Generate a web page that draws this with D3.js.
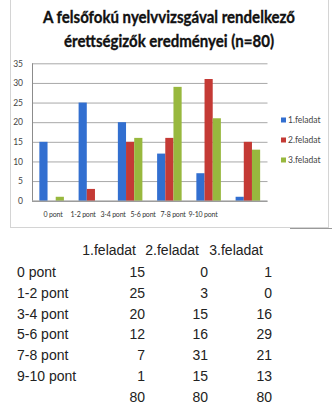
<!DOCTYPE html>
<html>
<head>
<meta charset="utf-8">
<script src="https://cdn.jsdelivr.net/npm/d3@7"></script>
<style>
  body { margin: 0; background: #fff; }
  svg { display: block; }
</style>
</head>
<body>
<script>
// data
var categories = ["0 pont", "1-2 pont", "3-4 pont", "5-6 pont", "7-8 pont", "9-10 pont"];
var seriesNames = ["1.feladat", "2.feladat", "3.feladat"];
var feladat1 = [15, 25, 20, 12, 7, 1];
var feladat2 = [0, 3, 15, 16, 31, 15];
var feladat3 = [1, 0, 16, 29, 21, 13];
var totals = [80, 80, 80];
var yTicks = [0, 5, 10, 15, 20, 25, 30, 35];
var titleLines = ["A felsőfokú nyelvvizsgával rendelkező", "érettségizők eredményei (n=80)"];

var colors = ["#326fd0", "#c43a35", "#98b83e"];
var series = [feladat1, feladat2, feladat3];

var W = 332, H = 415;
var svg = d3.select("body").append("svg")
    .attr("width", W)
    .attr("height", H);

//---------chart frame-----------//
svg.append("rect")
    .attr("x", 10.5).attr("y", -1)
    .attr("width", 318).attr("height", 228.5)
    .attr("fill", "#fff")
    .attr("stroke", "#d4d4d4");
// little shadow line at bottom right
svg.append("line")
    .attr("x1", 290).attr("x2", 332)
    .attr("y1", 228.5).attr("y2", 228.5)
    .attr("stroke", "#9a9a9a");

// title
svg.selectAll(".title")
    .data(titleLines)
    .enter().append("text")
    .attr("class", "title")
    .attr("x", 169)
    .attr("y", function(d, i) { return 23 + i * 24; })
    .attr("text-anchor", "middle")
    .attr("textLength", function(d, i) { return i === 0 ? 252 : 210; })
    .attr("lengthAdjust", "spacingAndGlyphs")
    .style("font-family", "Lato, sans-serif")
    .style("font-weight", "bold")
    .style("font-size", "17px")
    .style("fill", "#111")
    .style("stroke", "#111")
    .style("stroke-width", "0.35px")
    .text(function(d) { return d; });

//---------plot-----------//
var plot = { left: 32, right: 267.5, top: 63.3, bottom: 200.7 };

var x = d3.scaleBand()
    .domain(categories)
    .range([plot.left, plot.right])
    .paddingInner(0).paddingOuter(0);

var xInner = d3.scaleBand()
    .domain(seriesNames)
    .range([0, x.bandwidth()])
    .paddingInner(0).paddingOuter(0.9);

var y = d3.scaleLinear()
    .domain([0, 35])
    .range([plot.bottom, plot.top]);

// gridlines
var grid = svg.append("g")
    .attr("transform", "translate(" + plot.left + ",0)")
    .call(d3.axisLeft(y).tickValues(yTicks).tickSize(-(plot.right - plot.left)).tickFormat(""));
grid.select(".domain").remove();
grid.selectAll("line").attr("stroke", "#a8a8a8");

// y axis labels
var yAxis = svg.append("g")
    .attr("transform", "translate(" + (plot.left - 9) + ",0)")
    .call(d3.axisLeft(y).tickValues(yTicks).tickSize(0).tickPadding(0));
yAxis.select(".domain").remove();
yAxis.selectAll("text")
    .style("font-family", "Lato, sans-serif")
    .style("font-size", "8.5px")
    .style("fill", "#444");

// bars
var groups = svg.selectAll(".grp")
    .data(seriesNames)
    .enter().append("g")
    .attr("class", "grp")
    .attr("fill", function(d, i) { return colors[i]; });

groups.selectAll("rect")
    .data(function(d, i) { return series[i].map(function(v, j) { return { s: d, c: categories[j], v: v }; }); })
    .enter().append("rect")
    .attr("x", function(d) { return x(d.c) + xInner(d.s); })
    .attr("width", xInner.bandwidth())
    .attr("y", function(d) { return y(d.v); })
    .attr("height", function(d) { return y(0) - y(d.v); });

// axis lines
svg.append("line")
    .attr("x1", plot.left + 0.5).attr("x2", plot.left + 0.5)
    .attr("y1", plot.top).attr("y2", plot.bottom)
    .attr("stroke", "#8c8c8c");
svg.append("line")
    .attr("x1", plot.left).attr("x2", plot.right)
    .attr("y1", plot.bottom + 0.5).attr("y2", plot.bottom + 0.5)
    .attr("stroke", "#8c8c8c");

// category labels (sit narrower than the bars in the picture)
var xLab = d3.scaleBand()
    .domain(categories)
    .range([38, 218]);
var xAxis = svg.append("g")
    .attr("transform", "translate(0," + (plot.bottom + 11) + ")")
    .call(d3.axisBottom(xLab).tickSize(0).tickPadding(0));
xAxis.select(".domain").remove();
xAxis.selectAll("text")
    .style("font-family", "Lato, sans-serif")
    .style("font-size", "7px")
    .style("letter-spacing", "-0.2px")
    .style("fill", "#333");

// legend
var legend = svg.selectAll(".leg")
    .data(seriesNames)
    .enter().append("g")
    .attr("class", "leg")
    .attr("transform", function(d, i) { return "translate(281," + (120 + i * 20) + ")"; });
legend.append("rect")
    .attr("x", 0).attr("y", -2.5)
    .attr("width", 5).attr("height", 5)
    .attr("fill", function(d, i) { return colors[i]; });
legend.append("text")
    .attr("x", 7).attr("y", 3)
    .style("font-family", "Lato, sans-serif")
    .style("font-size", "8.5px")
    .style("fill", "#444")
    .text(function(d) { return d; });

//---------table below-----------//
var colRight = d3.scaleOrdinal().domain(seriesNames).range([145, 208, 272]);
var tableFont = "'Liberation Sans', Arial, sans-serif";
var rowY = d3.scaleLinear().domain([0, 1]).range([276.7, 297.6]);

svg.selectAll(".hdr")
    .data(seriesNames)
    .enter().append("text")
    .attr("class", "hdr")
    .attr("x", function(d) { return colRight(d) - 9; })
    .attr("y", 255)
    .attr("text-anchor", "end")
    .style("font-family", tableFont)
    .style("font-size", "14px")
    .style("fill", "#222")
    .text(function(d) { return d; });

svg.selectAll(".rowlab")
    .data(categories)
    .enter().append("text")
    .attr("class", "rowlab")
    .attr("x", 17)
    .attr("y", function(d, i) { return rowY(i); })
    .style("font-family", tableFont)
    .style("font-size", "14px")
    .style("fill", "#222")
    .text(function(d) { return d; });

seriesNames.forEach(function(s, si) {
    var vals = series[si].concat([totals[si]]);
    svg.selectAll(".cell" + si)
        .data(vals)
        .enter().append("text")
        .attr("class", "cell" + si)
        .attr("x", colRight(s))
        .attr("y", function(d, i) { return rowY(i); })
        .attr("text-anchor", "end")
        .style("font-family", tableFont)
        .style("font-size", "14px")
        .style("fill", "#222")
        .text(function(d) { return d; });
});
</script>
</body>
</html>
